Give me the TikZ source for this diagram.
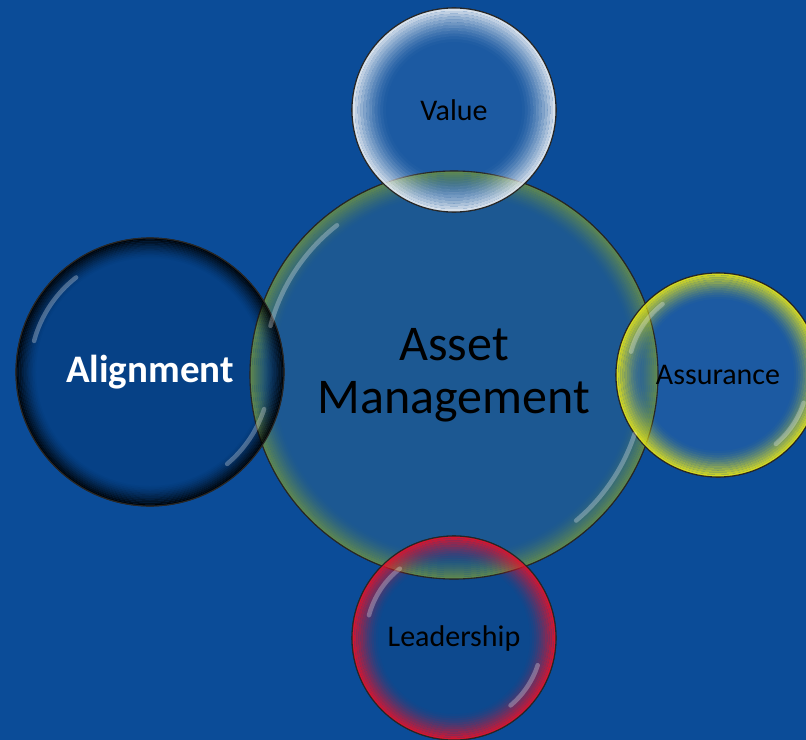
\documentclass[tikz,border=0pt]{standalone}
\usepackage{fontspec}
\setmainfont{Carlito}
\usepackage[svgnames]{xcolor}

\definecolor{deskblue}{RGB}{11,76,152}
\definecolor{coreblue}{RGB}{28,88,146}
\definecolor{lightblue}{RGB}{40,100,170}
\definecolor{darkblue}{RGB}{4,58,122}
\definecolor{rimgreen}{RGB}{100,140,75}
\definecolor{rimwhite}{RGB}{230,236,242}
\definecolor{rimyellow}{RGB}{228,228,25}
\definecolor{rimred}{RGB}{228,18,42}

\begin{document}
\begin{tikzpicture}[x=1bp,y=-1bp,
  bubble/.style 2 args={circle, minimum size=#1, inner sep=0pt,
    draw=black!85, line width=1.1bp, fill=#2, fill opacity=.6, text opacity=1},
  shine/.style={draw=white, line width=4.5bp, line cap=round, opacity=.28},
  smalltext/.style={font=\fontsize{30bp}{32bp}\selectfont, text=black}]
  \fill[deskblue] (0,0) rectangle (806,740);
  \useasboundingbox (0,0) rectangle (806,740);
  \clip (0,0) rectangle (806,740);

  \node[bubble={408bp}{coreblue}, fill opacity=1] (am) at (454,375) {};
  \node[bubble={268bp}{darkblue}] (align) at (150,372) {};
  \node[bubble={204bp}{lightblue}] (value) at (454,110) {};
  \node[bubble={204bp}{lightblue}] (assur) at (718,375) {};
  \node[bubble={204bp}{darkblue!70!lightblue}] (lead) at (454,638) {};

  % soft coloured rims, fading inwards
  \foreach \b/\r/\w/\c in {am/204/24/rimgreen, align/134/20/black, value/102/34/rimwhite,
      assur/102/26/rimyellow, lead/102/26/rimred}{
    \foreach \i in {0,...,11}{
      \pgfmathsetmacro\rr{\r-(\i+.5)*\w/12}
      \pgfmathsetmacro\op{.92*(1-\i/12)^1.5}
      \draw[\c, line width=\w/12 bp, opacity=\op] (\b.center) circle (\rr bp);
    }
    \draw[black!85, line width=1.1bp] (\b.center) circle (\r bp);
  }

  % glassy highlights
  \foreach \b/\r in {am/190, align/120, assur/90, lead/88}{
    \draw[shine] ([shift={(128:\r bp)}]\b.center) arc[start angle=128, end angle=165, radius=\r bp];
    \draw[shine] ([shift={(-50:\r bp)}]\b.center) arc[start angle=-50, end angle=-18, radius=\r bp];
  }

  \node[align=center, font=\fontsize{50bp}{53bp}\selectfont] (am-t) at (am.center) {Asset\\Management};
  \node[text=white, font=\fontsize{39bp}{40bp}\selectfont\bfseries] (align-t) at (align.center) {Alignment};
  \node[smalltext] (value-t) at (value.center) {Value};
  \node[smalltext] (assur-t) at (assur.center) {Assurance};
  \node[smalltext] (lead-t) at (lead.center) {Leadership};
\end{tikzpicture}
\end{document}
